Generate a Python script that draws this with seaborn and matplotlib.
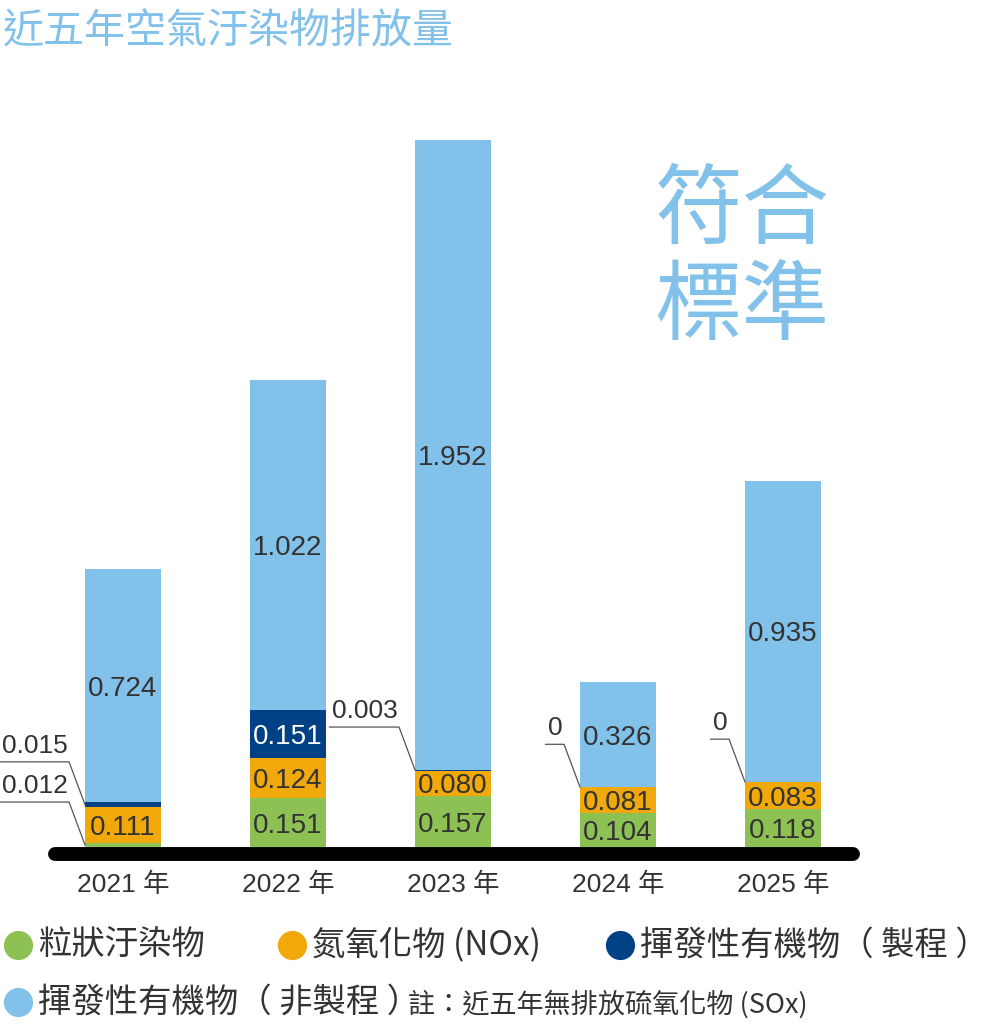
import numpy as np
import pandas as pd
import matplotlib
matplotlib.use("Agg")
import matplotlib.pyplot as plt
from matplotlib.lines import Line2D
import seaborn as sns

# data (tons)
years = ["2021", "2022", "2023", "2024", "2025"]
pm = [0.012, 0.151, 0.157, 0.104, 0.118]          # 粒狀汙染物
nox = [0.111, 0.124, 0.080, 0.081, 0.083]         # 氮氧化物
voc_proc = [0.015, 0.151, 0.003, 0, 0]            # 揮發性有機物(製程)
voc_nonproc = [0.724, 1.022, 1.952, 0.326, 0.935] # 揮發性有機物(非製程)

colors = ["#8dc153", "#f0a80a", "#004186", "#82c1ea"]
text_dark = "#333333"
title_blue = "#82c1ea"

sns.set_style("white")
plt.rcParams["font.family"] = ["Noto Sans CJK TC", "DejaVu Sans"]
num_font = ["Liberation Sans", "Noto Sans CJK TC"]

cols = ["pm", "nox", "voc_proc", "voc_nonproc"]
df = pd.DataFrame({"year": years, "pm": pm, "nox": nox,
                   "voc_proc": voc_proc, "voc_nonproc": voc_nonproc})
cum = df[cols].cumsum(axis=1)
cum["year"] = years

W, H = 989, 1024
fig = plt.figure(figsize=(W / 100, H / 100), dpi=100)
ax = fig.add_axes([40.5 / W, 0.1099, 825 / W, 0.8031])

bar_w = 0.46
# overlay cumulative totals, tallest first
for k in range(3, -1, -1):
    n0 = len(ax.patches)
    sns.barplot(data=cum, x="year", y=cols[k], color=colors[k], width=bar_w,
                saturation=1, linewidth=0, errorbar=None, ax=ax)
    seg = df[cols[k]].values
    for p, v in zip(ax.patches[n0:], seg):
        if v == 0:
            p.set_visible(False)

ax.set_xlim(-0.5, 4.5)
ax.set_ylim(-0.2, 2.35)
ax.set_xticks([])
ax.set_yticks([])
ax.set_xlabel("")
ax.set_ylabel("")
sns.despine(ax=ax, left=True, bottom=True)

# px -> data units
px_x = 1 / 165
px_y = 1 / 322.5

# thick baseline
ax.plot([-0.412, 4.424], [-0.022, -0.022], color="black", lw=10,
        solid_capstyle="round", clip_on=False, zorder=5)

# year labels
for i, y in enumerate(years):
    ax.text(i, -0.118, f"{y} 年", ha="center", va="center",
            fontsize=19, color=text_dark, family=num_font)

# value labels
callouts = []
bottoms = np.zeros(len(years))
for k, col in enumerate(cols):
    vals = df[col].values
    for i, v in enumerate(vals):
        mid = bottoms[i] + v / 2
        if v < 0.05:
            anchor_y = mid if v > 0 else bottoms[i]
            callouts.append((i, anchor_y, f"{v:.3f}" if v > 0 else "0"))
        else:
            c = "white" if k == 2 else text_dark
            ax.text(i, mid - 3 * px_y, f"{v:.3f}", ha="center", va="center",
                    fontsize=20, color=c, family=num_font)
    bottoms += vals

fig.canvas.draw()
r = fig.canvas.get_renderer()
for i, ay, txt in callouts:
    axx = i - bar_w / 2
    ex = axx - 16 * px_x
    ey = ay + 43 * px_y
    t = ax.text(ex, ey + 4 * px_y, txt, ha="right", va="bottom",
                fontsize=19, color=text_dark, family=num_font)
    w = t.get_window_extent(renderer=r).width
    t.set_x(ex - 1 * px_x)
    ax.plot([ex - (w + 4) * px_x, ex, axx], [ey, ey, ay],
            color="#555555", lw=0.9, clip_on=False, zorder=6)

# title and stamp
fig.text(3 / W, 1 - 32 / H, "近五年空氣汙染物排放量", ha="left", va="center",
         fontsize=29.5, color=title_blue)
fig.text(742 / W, 1 - 212 / H, "符合", ha="center", va="center",
         fontsize=63, color=title_blue)
fig.text(742 / W, 1 - 308 / H, "標準", ha="center", va="center",
         fontsize=63, color=title_blue)

# legend
legend_names = ["粒狀汙染物", "氮氧化物 (NOx)", "揮發性有機物（ 製程 ）", "揮發性有機物（ 非製程 ）"]
legend_pos = [(18, 945), (292, 945), (620, 945), (18, 1002)]
for name, c, (lx, ly) in zip(legend_names, colors, legend_pos):
    fig.add_artist(Line2D([lx / W], [1 - ly / H], marker="o", ms=20,
                          color=c, linestyle="none", transform=fig.transFigure))
    fig.text((lx + 20) / W, 1 - ly / H, name, ha="left", va="center",
             fontsize=24, color=text_dark)
fig.text(408 / W, 1 - 1004 / H, "註：近五年無排放硫氧化物 (SOx)", ha="left",
         va="center", fontsize=19.5, color=text_dark)

fig.savefig("out.png", dpi=100)
